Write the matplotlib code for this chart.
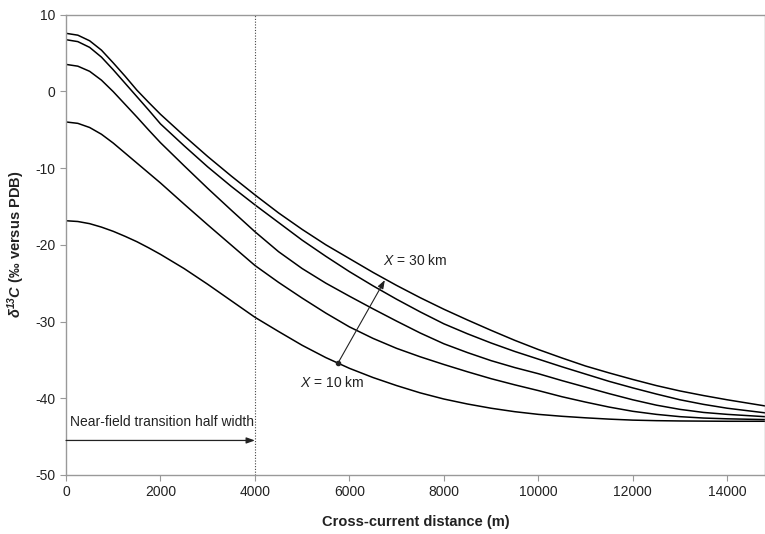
import matplotlib
matplotlib.use("Agg")
import matplotlib.pyplot as plt

plt.rcParams["font.family"] = ["Liberation Sans", "DejaVu Sans"]
plt.rcParams["axes.unicode_minus"] = False
plt.rcParams["mathtext.fontset"] = "custom"
plt.rcParams["mathtext.it"] = "Liberation Sans:italic"
plt.rcParams["mathtext.rm"] = "Liberation Sans"
plt.rcParams["mathtext.bf"] = "Liberation Sans:bold:italic"

# distance across the current (m)
distance = [0, 250, 500, 750, 1000, 1250, 1500, 1750, 2000, 2500, 3000, 3500,
            4000, 4500, 5000, 5500, 6000, 6500, 7000, 7500, 8000, 8500, 9000,
            9500, 10000, 10500, 11000, 11500, 12000, 12500, 13000, 13500, 14000, 14800]

# d13C curves, from X = 30 km (top) down to X = 10 km (bottom)
d13c_30 = [7.55, 7.31, 6.58, 5.36, 3.7, 1.97, 0.15, -1.45, -3.0, -5.8, -8.5, -11.05,
           -13.5, -15.85, -18.0, -20.0, -21.8, -23.6, -25.3, -26.9, -28.4, -29.8, -31.15,
           -32.45, -33.65, -34.75, -35.8, -36.7, -37.55, -38.35, -39.05, -39.65, -40.2, -41.0]
d13c_25 = [6.72, 6.47, 5.72, 4.45, 2.8, 1.05, -0.7, -2.45, -4.25, -7.1, -9.85, -12.4,
           -14.8, -17.1, -19.4, -21.5, -23.5, -25.35, -27.1, -28.75, -30.3, -31.6, -32.8,
           -33.9, -34.9, -35.9, -36.85, -37.8, -38.65, -39.45, -40.2, -40.8, -41.3, -41.9]
d13c_20 = [3.5, 3.27, 2.6, 1.45, -0.05, -1.7, -3.35, -5.05, -6.7, -9.7, -12.65, -15.5,
           -18.3, -20.9, -23.1, -25.0, -26.7, -28.35, -29.95, -31.5, -32.9, -34.05, -35.1,
           -36.0, -36.8, -37.7, -38.55, -39.4, -40.2, -40.9, -41.45, -41.85, -42.1, -42.4]
d13c_15 = [-4.0, -4.18, -4.72, -5.6, -6.75, -8.05, -9.35, -10.65, -11.95, -14.7, -17.4, -20.05,
           -22.7, -24.9, -26.95, -28.9, -30.7, -32.2, -33.5, -34.6, -35.6, -36.55, -37.45,
           -38.25, -39.0, -39.8, -40.5, -41.15, -41.7, -42.1, -42.4, -42.58, -42.68, -42.78]
d13c_10 = [-16.87, -16.97, -17.25, -17.7, -18.25, -18.9, -19.6, -20.4, -21.25, -23.1, -25.15, -27.3,
           -29.45, -31.3, -33.1, -34.7, -36.1, -37.3, -38.35, -39.3, -40.1, -40.75, -41.3,
           -41.75, -42.1, -42.35, -42.55, -42.72, -42.85, -42.92, -42.96, -42.98, -43.0, -43.0]

curves = [d13c_30, d13c_25, d13c_20, d13c_15, d13c_10]

fig = plt.figure(figsize=(7.65, 5.34), dpi=100)
ax = fig.add_axes([0.0863, 0.1105, 0.9137, 0.8623])

for c in curves:
    ax.plot(distance, c, color="black", linewidth=1.1, solid_joinstyle="round")

# near-field half width
ax.axvline(4000, color="#444444", linestyle=(0, (1, 1.5)), linewidth=0.8)
ax.annotate("", xy=(4000, -45.5), xytext=(0, -45.5),
            arrowprops=dict(arrowstyle="-|>,head_length=0.5,head_width=0.18",
                            color="#222222", lw=0.9, shrinkA=0, shrinkB=0))
ax.text(80, -43.1, "Near-field transition half width", fontsize=10,
        color="#222222", va="center", ha="left")

# X arrow from 10 km to 30 km
ax.annotate("", xy=(6751, -24.6), xytext=(5763, -35.37),
            arrowprops=dict(arrowstyle="-|>,head_length=0.5,head_width=0.18",
                            color="#222222", lw=0.8, shrinkA=0, shrinkB=0))
ax.plot([5763], [-35.37], marker="o", markersize=3, color="#222222")
ax.text(6709, -22.0, r"$X$ = 30 km", fontsize=10, color="#222222",
        va="center", ha="left")
ax.text(4952, -38.0, r"$X$ = 10 km", fontsize=10, color="#222222",
        va="center", ha="left")

ax.set_xlim(0, 14800)
ax.set_ylim(-50, 10)
ax.set_xticks(range(0, 14001, 2000))
ax.set_yticks(range(-50, 11, 10))

for side in ["left", "bottom", "top", "right"]:
    ax.spines[side].set_color("#999999")
    ax.spines[side].set_linewidth(1.0)
ax.tick_params(axis="both", colors="#999999", labelcolor="#222222",
               labelsize=10, length=4, width=0.8)

ax.set_xlabel("Cross-current distance (m)", fontsize=10.5, fontweight="bold",
              color="#222222", labelpad=11)
ax.set_ylabel(r"$\mathbf{\delta^{13}C}$ (‰ versus PDB)", fontsize=10.5,
              fontweight="bold", color="#222222", labelpad=6)

fig.savefig("out.png", dpi=100)
plt.close(fig)
